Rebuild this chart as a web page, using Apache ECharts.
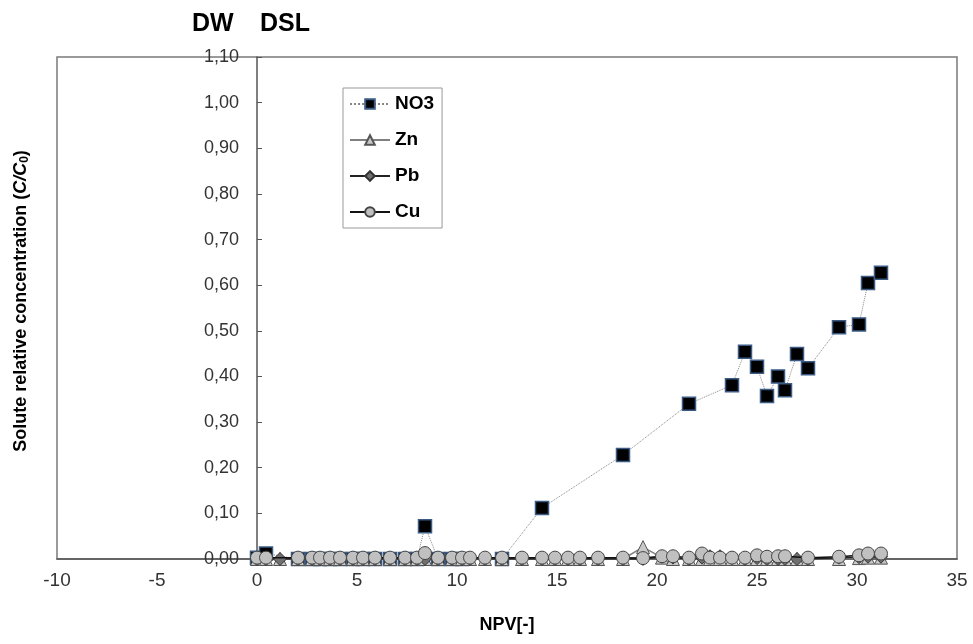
<!DOCTYPE html>
<html>
<head>
<meta charset="utf-8">
<script src="https://cdn.jsdelivr.net/npm/echarts@6/dist/echarts.min.js"></script>
<style>
  html, body { margin: 0; padding: 0; background: #fff; }
  #main { width: 973px; height: 644px; }
</style>
</head>
<body>
<div id="main"></div>
<script>
// pore volumes (shared x positions)
const npv = [0, 0.45, 1.15, 2.05, 2.75, 3.15, 3.65, 4.15, 4.8, 5.3, 5.9, 6.65, 7.4, 8.0, 8.4,
  9.05, 9.75, 10.25, 10.65, 11.4, 12.25, 13.25, 14.25, 14.9, 15.55, 16.15, 17.05, 18.3, 19.3,
  20.25, 20.8, 21.6, 22.25, 22.65, 23.15, 23.75, 24.4, 25.0, 25.5, 26.05, 26.4, 27.0, 27.55,
  29.1, 30.1, 30.55, 31.2]

const no3 = [0.003, 0.012, null, 0, 0, 0, 0, 0, 0, 0, 0, 0, 0, 0, 0.072,
  0, 0, 0, null, null, 0, null, 0.112, null, null, null, null, 0.228, null,
  null, null, 0.34, null, null, null, 0.381, 0.454, 0.421, 0.357, 0.40, 0.37, 0.449, 0.418,
  0.508, 0.514, 0.605, 0.627]

const zn = [0, 0, 0, 0, 0, 0, 0, 0, 0, 0, 0, 0, 0, 0, 0,
  0, 0, 0, 0, 0, 0, 0, 0, 0, 0, 0, 0, 0, 0.026,
  0.003, 0, 0, 0, 0, 0, 0, 0, 0, 0, 0, 0, 0, 0,
  0, 0.002, 0.003, 0.003]

const pb = [0, 0, 0, 0, 0, 0, 0, 0, 0, 0, 0, 0, 0, 0, 0,
  0, 0, 0, 0, 0, 0, 0, 0, 0, 0, 0, 0, 0, 0,
  0.005, 0.003, 0, 0.003, 0.006, 0.006, 0.002, 0, 0.002, 0, 0, 0, 0, 0,
  0.003, 0.004, 0.005, 0.005]

const cu = [0.003, 0.003, null, 0.003, 0.003, 0.003, 0.003, 0.003, 0.003, 0.003, 0.003, 0.003, 0.003, 0.003, 0.013,
  0.003, 0.003, 0.003, 0.003, 0.003, 0.003, 0.003, 0.003, 0.003, 0.003, 0.003, 0.003, 0.003, 0.002,
  0.006, 0.006, 0.003, 0.012, 0.003, 0.003, 0.003, 0.003, 0.008, 0.005, 0.006, 0.006, null, 0.003,
  0.005, 0.008, 0.012, 0.012]

const xTicks = { min: -10, max: 35, step: 5 }
const yTicks = { min: 0, max: 1.1, step: 0.1 }

function pairs(vals) {
  return npv.map((x, i) => [x, vals[i]])
}

const chart = echarts.init(document.getElementById('main'))

// grid is 900px for 45 units; y axis sits at x = 0
const yAxisShift = -(0 - xTicks.min) * 900 / (xTicks.max - xTicks.min)

let option = {
  animation: false,
  graphic: [
    { type: 'text', left: 192, top: 12, style: { text: 'DW', font: 'bold 25px Arial, "Liberation Sans"', fill: '#000' } },
    { type: 'text', left: 260, top: 12, style: { text: 'DSL', font: 'bold 25px Arial, "Liberation Sans"', fill: '#000' } },
    {
      type: 'text',
      x: 21,
      y: 301,
      rotation: Math.PI / 2,
      style: {
        text: '{a|Solute relative concentration (}{i|C/C}{s|0}{a|)}',
        align: 'center',
        verticalAlign: 'middle',
        rich: {
          a: { font: 'bold 18px Arial, "Liberation Sans"', fill: '#000' },
          i: { font: 'italic bold 18px Arial, "Liberation Sans"', fill: '#000' },
          s: { font: 'bold 12px Arial, "Liberation Sans"', fill: '#000', verticalAlign: 'bottom', padding: [7, 0, 0, 0] }
        }
      }
    }
  ],
  legend: {
    orient: 'vertical',
    left: 343,
    top: 88,
    itemWidth: 40,
    itemHeight: 12,
    itemGap: 16,
    padding: [6, 8, 6, 6],
    borderColor: '#999',
    borderWidth: 1,
    textStyle: { fontFamily: 'Arial, "Liberation Sans"', fontWeight: 'bold', fontSize: 19, lineHeight: 20, color: '#000' },
    data: ['NO3', 'Zn', 'Pb', 'Cu']
  },
  grid: {
    left: 57,
    right: 16,
    top: 57,
    bottom: 85,
    show: true,
    borderColor: '#7a7a7a',
    borderWidth: 1.5,
    containLabel: false
  },
  xAxis: {
    type: 'value',
    min: xTicks.min,
    max: xTicks.max,
    interval: xTicks.step,
    name: 'NPV[-]',
    nameLocation: 'middle',
    nameGap: 57,
    nameTextStyle: { fontFamily: 'Arial, "Liberation Sans"', fontWeight: 'bold', fontSize: 18, color: '#000' },
    axisLine: { show: true, lineStyle: { color: '#555', width: 1.5 } },
    axisTick: { show: false },
    splitLine: { show: false },
    axisLabel: { margin: 12, fontFamily: 'Arial, "Liberation Sans"', fontSize: 19, color: '#333' }
  },
  yAxis: {
    type: 'value',
    min: yTicks.min,
    max: yTicks.max,
    interval: yTicks.step,
    offset: yAxisShift,
    axisLine: { show: true, onZero: false, lineStyle: { color: '#555', width: 1.5 } },
    axisTick: { show: true, inside: true, length: 5, lineStyle: { color: '#555' } },
    splitLine: { show: false },
    axisLabel: {
      margin: 18,
      fontFamily: 'Arial, "Liberation Sans"',
      fontSize: 18,
      color: '#333',
      formatter: v => v.toFixed(2).replace('.', ',')
    }
  },
  series: [
    {
      name: 'NO3',
      type: 'line',
      data: pairs(no3),
      connectNulls: true,
      symbol: 'rect',
      symbolSize: 13,
      itemStyle: { color: '#000', borderColor: '#3b5b85', borderWidth: 1.5 },
      lineStyle: { color: '#888', width: 1, type: 'dotted' },
      z: 2
    },
    {
      name: 'Zn',
      type: 'line',
      data: pairs(zn),
      connectNulls: true,
      symbol: 'triangle',
      symbolSize: 13,
      itemStyle: { color: '#c8c8c8', borderColor: '#555', borderWidth: 1 },
      lineStyle: { color: '#808080', width: 1.5 },
      z: 3
    },
    {
      name: 'Pb',
      type: 'line',
      data: pairs(pb),
      connectNulls: true,
      symbol: 'diamond',
      symbolSize: 13,
      itemStyle: { color: '#707070', borderColor: '#333', borderWidth: 1 },
      lineStyle: { color: '#222', width: 1.5 },
      z: 4
    },
    {
      name: 'Cu',
      type: 'line',
      data: pairs(cu),
      connectNulls: true,
      symbol: 'circle',
      symbolSize: 13,
      itemStyle: { color: '#c0c0c0', borderColor: '#444', borderWidth: 1 },
      lineStyle: { color: '#111', width: 1.5 },
      z: 5
    }
  ]
}

option && chart.setOption(option)
</script>
</body>
</html>
